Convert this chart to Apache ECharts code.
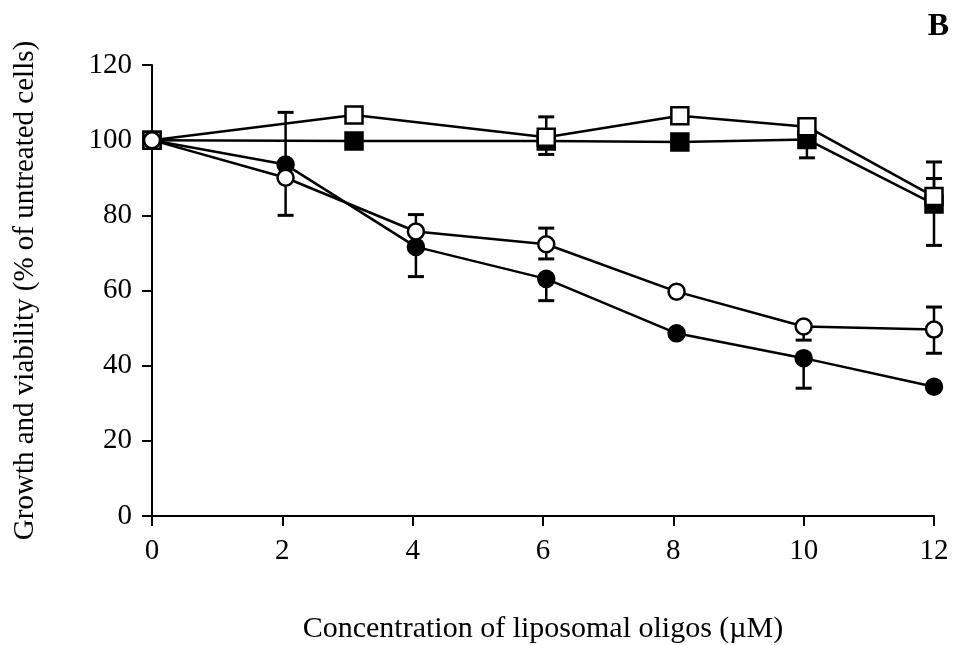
<!DOCTYPE html>
<html>
<head>
<meta charset="utf-8">
<script src="https://cdn.jsdelivr.net/npm/echarts@6/dist/echarts.min.js"></script>
<style>
  html, body { margin: 0; padding: 0; background: #fff; }
  #main { width: 956px; height: 645px; }
</style>
</head>
<body>
<div id="main"></div>
<script>
// concentration (uM) where each series was measured
const squareX = [0, 3.1, 6.05, 8.1, 10.05, 12];
const circleX = [0, 2.05, 4.05, 6.05, 8.05, 10, 12];

// growth / viability, % of untreated cells
const openSquareY = [100, 106.7, 100.8, 106.5, 103.6, 85];
const filledSquareY = [100, 99.8, 99.8, 99.5, 100.2, 83];
const openCircleY = [100, 90, 75.7, 72.3, 59.7, 50.4, 49.6];
const filledCircleY = [100, 93.5, 71.6, 63.1, 48.6, 42, 34.4];

// error bars (only the visible half is drawn in the figure)
const openSquareUp = [0, 0, 5.4, 0, 0, 4.8];
const openSquareDown = [0, 0, 0, 0, 0, 0];
const filledSquareUp = [0, 0, 0, 0, 0, 11.2];
const filledSquareDown = [0, 0, 3.6, 0, 4.9, 11];
const openCircleUp = [0, 0, 4.5, 4.3, 0, 0, 6];
const openCircleDown = [0, 10, 0, 3.9, 0, 3.6, 6.3];
const filledCircleUp = [0, 13.9, 0, 0, 0, 0, 0];
const filledCircleDown = [0, 0, 7.9, 5.8, 0, 8, 0];

const xTicks = [0, 2, 4, 6, 8, 10, 12];
const yTicks = [0, 20, 40, 60, 80, 100, 120];

const FONT = "'Liberation Serif', 'DejaVu Serif', serif";

function pairs(xs, ys) {
  return xs.map(function (x, i) { return [x, ys[i]]; });
}

// build [x, y, up, down] rows for the error bar series
function errRows(xs, ys, up, down) {
  var rows = [];
  xs.forEach(function (x, i) {
    if (up[i] || down[i]) rows.push([x, ys[i], up[i], down[i]]);
  });
  return rows;
}

const errData = []
  .concat(errRows(squareX, openSquareY, openSquareUp, openSquareDown))
  .concat(errRows(squareX, filledSquareY, filledSquareUp, filledSquareDown))
  .concat(errRows(circleX, openCircleY, openCircleUp, openCircleDown))
  .concat(errRows(circleX, filledCircleY, filledCircleUp, filledCircleDown));

function renderErr(params, api) {
  var x = api.value(0), y = api.value(1), up = api.value(2), down = api.value(3);
  var top = api.coord([x, y + up]);
  var bot = api.coord([x, y - down]);
  var capW = 8;
  var children = [{
    type: 'line',
    shape: { x1: top[0], y1: top[1], x2: bot[0], y2: bot[1] },
    style: { stroke: '#000', lineWidth: 2.5 }
  }];
  if (up) children.push({
    type: 'line',
    shape: { x1: top[0] - capW, y1: top[1], x2: top[0] + capW, y2: top[1] },
    style: { stroke: '#000', lineWidth: 3 }
  });
  if (down) children.push({
    type: 'line',
    shape: { x1: bot[0] - capW, y1: bot[1], x2: bot[0] + capW, y2: bot[1] },
    style: { stroke: '#000', lineWidth: 3 }
  });
  return { type: 'group', children: children };
}

function lineSeries(name, data, symbol, filled, z) {
  return {
    name: name,
    type: 'line',
    data: data,
    symbol: symbol,
    symbolSize: symbol === 'rect' ? 17 : 16,
    z: z,
    lineStyle: { color: '#000', width: 2.5 },
    itemStyle: {
      color: filled ? '#000' : '#fff',
      borderColor: '#000',
      borderWidth: 2.5
    },
    emphasis: { disabled: true },
    animation: false
  };
}

const chart = echarts.init(document.getElementById('main'));
chart.setOption({
  backgroundColor: '#fff',
  animation: false,
  grid: { left: 152, right: 22, top: 65, bottom: 129, containLabel: false, outerBoundsMode: 'none' },
  title: {
    text: 'B',
    right: 2,
    top: 6,
    textStyle: { fontFamily: FONT, fontSize: 32, fontWeight: 'bold', color: '#000' }
  },
  xAxis: {
    type: 'value',
    min: 0,
    max: 12,
    interval: 2,
    name: 'Concentration of liposomal oligos (\u00b5M)',
    nameLocation: 'middle',
    nameGap: 98,
    nameTextStyle: { fontFamily: FONT, fontSize: 30, color: '#000' },
    axisLine: { onZero: false, lineStyle: { color: '#000', width: 2 } },
    axisTick: { length: 10, lineStyle: { color: '#000', width: 2 } },
    axisLabel: {
      fontFamily: FONT, fontSize: 29, color: '#000', margin: 21,
      formatter: function (v) { return xTicks.indexOf(v) >= 0 ? String(v) : ''; }
    },
    splitLine: { show: false }
  },
  yAxis: {
    type: 'value',
    min: 0,
    max: 120,
    interval: 20,
    name: 'Growth and viability (% of untreated cells)',
    nameLocation: 'middle',
    nameGap: 112,
    nameTextStyle: { fontFamily: FONT, fontSize: 29, color: '#000' },
    axisLine: { onZero: false, lineStyle: { color: '#000', width: 2 } },
    axisTick: { length: 10, lineStyle: { color: '#000', width: 2 } },
    axisLabel: {
      fontFamily: FONT, fontSize: 29, color: '#000', margin: 20,
      formatter: function (v) { return yTicks.indexOf(v) >= 0 ? String(v) : ''; }
    },
    splitLine: { show: false }
  },
  series: [
    {
      type: 'custom',
      renderItem: renderErr,
      data: errData,
      z: 1,
      silent: true,
      animation: false
    },
    lineSeries('filledSquare', pairs(squareX, filledSquareY), 'rect', true, 2),
    lineSeries('openSquare', pairs(squareX, openSquareY), 'rect', false, 3),
    lineSeries('filledCircle', pairs(circleX, filledCircleY), 'circle', true, 4),
    lineSeries('openCircle', pairs(circleX, openCircleY), 'circle', false, 5)
  ]
});
</script>
</body>
</html>
